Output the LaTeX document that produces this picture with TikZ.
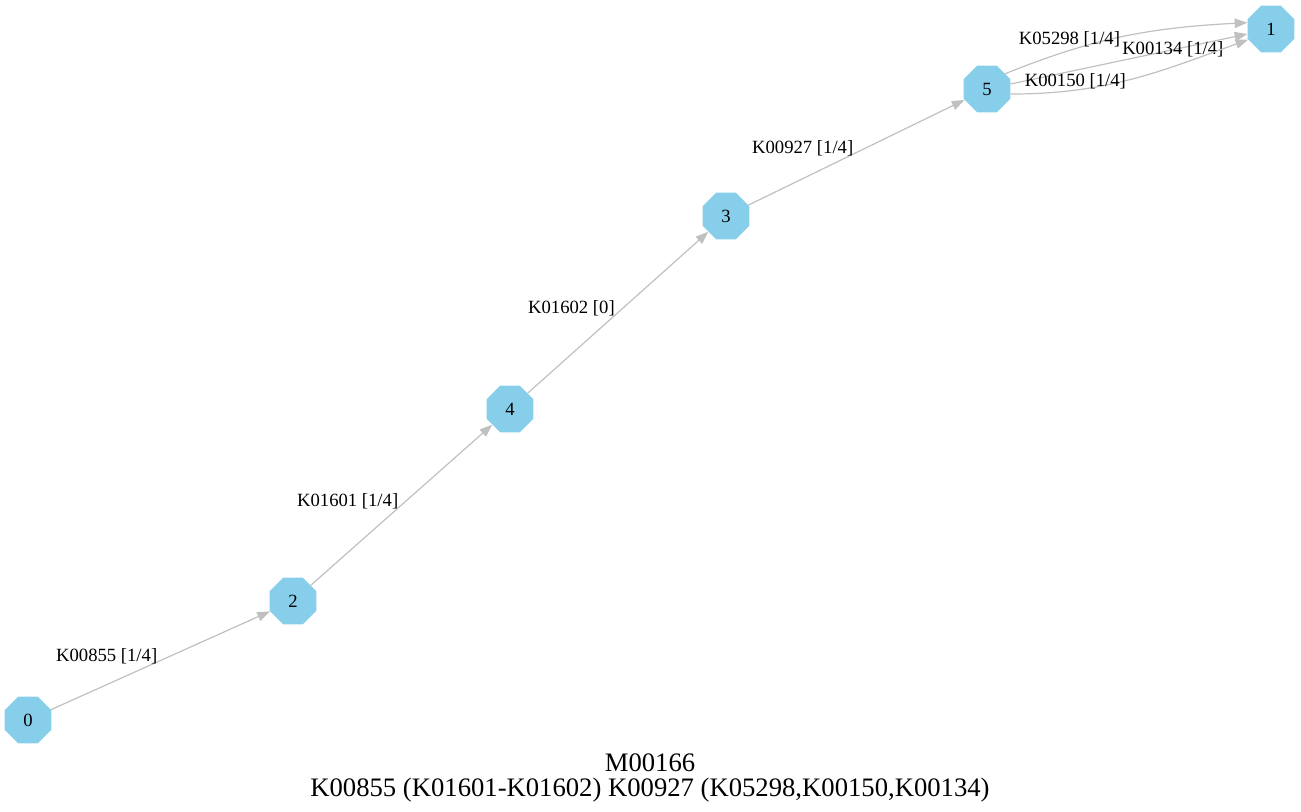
\documentclass[tikz,border=0pt]{standalone}
\usepackage{fontspec}
\setmainfont{Liberation Serif}
\usetikzlibrary{shapes.geometric, arrows.meta}
\definecolor{skyblue}{HTML}{87CEEB}
\definecolor{edgegray}{HTML}{C0C0C0}

\begin{document}
\begin{tikzpicture}[x=0.75pt, y=-0.75pt,
    octnode/.style={regular polygon, regular polygon sides=8, fill=skyblue,
        draw=none, minimum size=38pt, inner sep=0pt, font=\fontsize{14}{16}\selectfont},
    link/.style={draw=edgegray, line width=0.9pt, -{Triangle[length=9.5pt, width=7pt, fill=edgegray]}},
    lbl/.style={font=\fontsize{14}{16}\selectfont, inner sep=2pt}]
    \useasboundingbox (0,0) rectangle (1301,812);
    \node[octnode] (n_0) at (28,720) {0};
    \node[octnode] (n_2) at (293,601) {2};
    \node[octnode] (n_4) at (510,409) {4};
    \node[octnode] (n_3) at (726,216) {3};
    \node[octnode] (n_5) at (987,89) {5};
    \node[octnode] (n_1) at (1271,29) {1};
        \path
        (n_0)   edge[link] node[lbl, left, yshift=3pt] {K00855 [1/4]} (n_2)
        (n_2)   edge[link] node[lbl, left, yshift=3pt] {K01601 [1/4]} (n_4)
        (n_4)   edge[link] node[lbl, left, yshift=3pt] {K01602 [0]} (n_3)
        (n_3)   edge[link] node[lbl, left, yshift=3pt] {K00927 [1/4]} (n_5);
        \path
        (n_5.40)  edge[link, out=22, in=183] node[lbl, pos=0.3, xshift=-7pt, yshift=6pt] {K05298 [1/4]} (n_1.165)
        (n_5)     edge[link] node[lbl, pos=0.685] {K00134 [1/4]} (n_1)
        (n_5.-12) edge[link, out=0, in=200] node[lbl, pos=0.25, yshift=7pt] {K00150 [1/4]} (n_1.205);

    \node[align=center, font=\fontsize{20}{19}\selectfont] (title) at (650,778)
        {M00166\\K00855 (K01601-K01602) K00927 (K05298,K00150,K00134)};
\end{tikzpicture}
\end{document}
